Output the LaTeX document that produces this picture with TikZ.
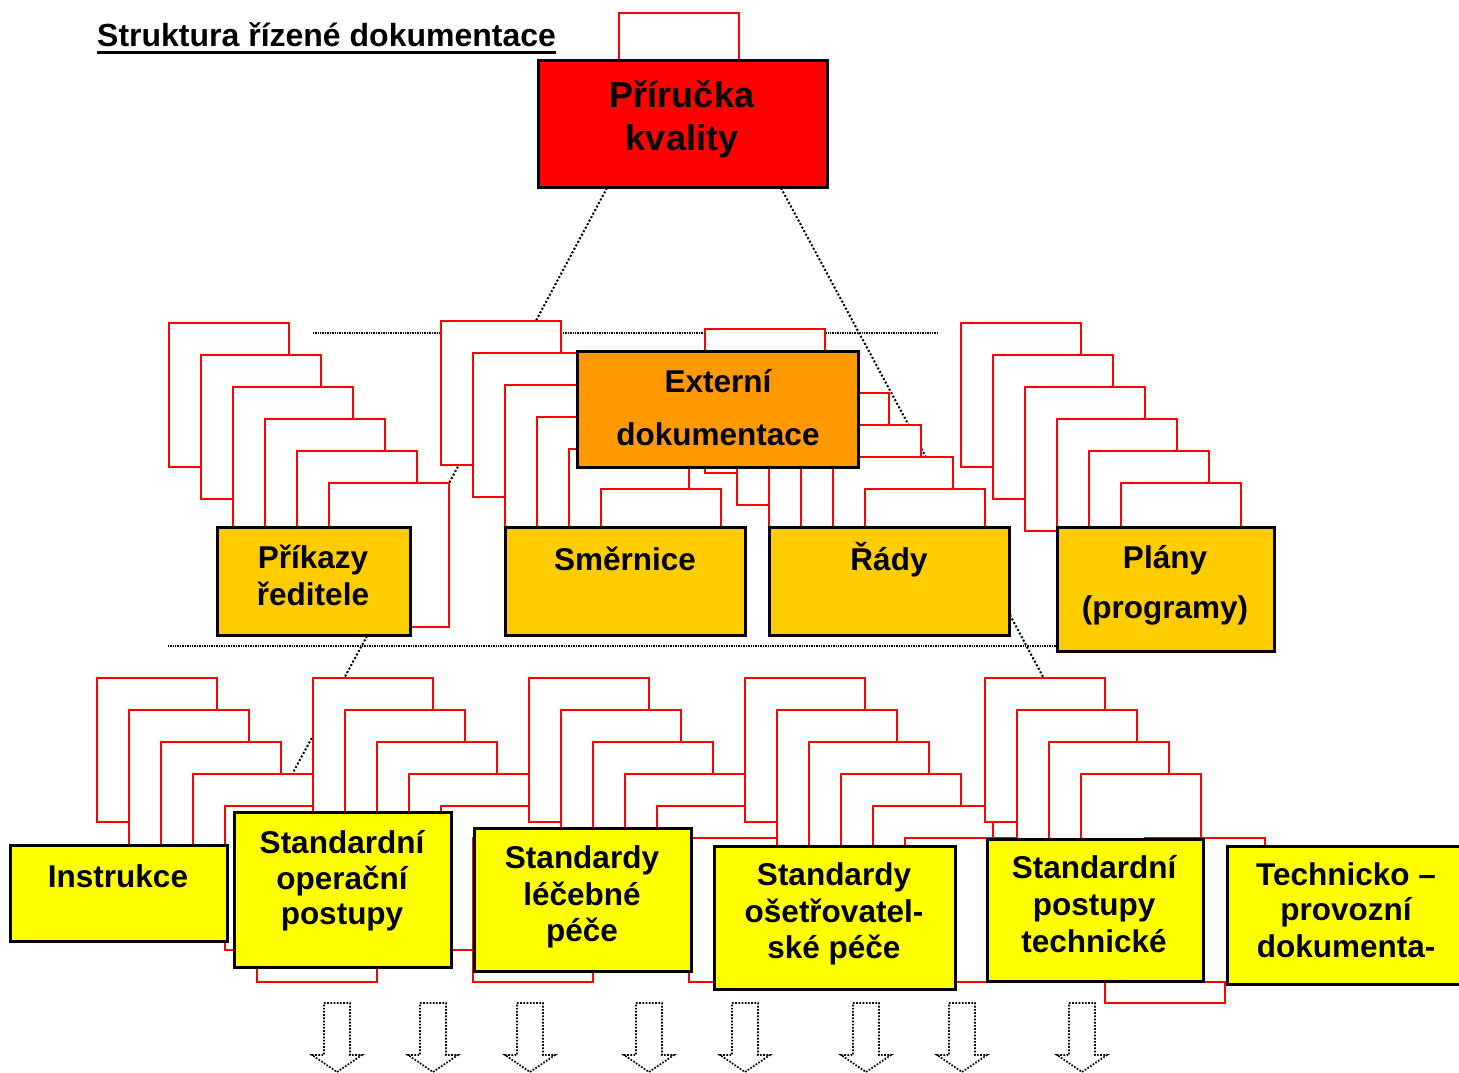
\documentclass[tikz,border=0pt]{standalone}
\usepackage{fontspec}
\setmainfont{Liberation Sans}
\definecolor{qred}{HTML}{FF0000}
\definecolor{qorange}{HTML}{FF9900}
\definecolor{qgold}{HTML}{FFCC00}
\definecolor{qyellow}{HTML}{FFFF00}
\tikzset{
  sheet/.style={draw=qred, fill=white, line width=2pt},
  docbox/.style={draw=black, line width=3pt, inner sep=0pt},
  txt/.style={font=\bfseries\fontsize{31.5}{36}\selectfont, inner sep=0pt, anchor=base},
  bigtxt/.style={font=\bfseries\fontsize{36}{40}\selectfont, inner sep=0pt, anchor=base},
  conn/.style={draw=black, line width=2pt, dash pattern=on 2pt off 2pt},
  level/.style={draw=black, line width=1.6pt, dash pattern=on 1pt off 0.7pt},
  flowarrow/.style={draw=black, line width=1.7pt, dash pattern=on 1.7pt off 1.5pt, fill=white}
}
\newcommand\stack[3]{\foreach \k in {#3} \draw[sheet] ({#1+32*\k},{#2+32*\k}) rectangle ++(120,144);}
\newcommand\flowdown[1]{\draw[flowarrow] ({#1-13},1003) -- ({#1+13},1003) -- ({#1+13},1055) -- ({#1+25},1055) -- (#1,1072) -- ({#1-25},1055) -- ({#1-13},1055) -- cycle;}
\begin{document}
\begin{tikzpicture}[x=1pt,y=-1pt]
\useasboundingbox (0,0) rectangle (1459,1073);

% connector end points
\coordinate (c1a) at (607,188);
\coordinate (c1b) at (440,500);
\coordinate (c2a) at (781,188);
\coordinate (c2b) at (949,500);
\coordinate (c3a) at (367,636);
\coordinate (c3b) at (270,815);
\coordinate (c4a) at (1010,615);
\coordinate (c4b) at (1058,705);
\coordinate (h1a) at (313,333);
\coordinate (h1b) at (937,333);
\coordinate (h2a) at (168,646);
\coordinate (h2b) at (1060,646);

% dotted lines (under everything)
\draw[level] (h1a) -- (h1b);
\draw[level] (h2a) -- (h2b);
\draw[conn] (c1a) -- (c1b);
\draw[conn] (c2a) -- (c2b);
\draw[conn] (c3a) -- (c3b);
\draw[conn] (c4a) -- (c4b);

% top sheet
\draw[sheet] (619,13) rectangle ++(120,144);

% middle stacks
\stack{169}{323}{0,...,5}
\stack{441}{321}{0,...,4}
\draw[sheet] (601,489) rectangle ++(120,144);
\stack{705}{329}{0,...,5}
\stack{961}{323}{0,...,5}

% bottom stacks
\stack{97}{678}{0,...,5}
\stack{313}{678}{0,...,5}
\stack{529}{678}{0,...,5}
\stack{745}{678}{0,...,5}
\draw[sheet] (1105,859) rectangle ++(120,144);
\stack{985}{678}{0,...,3}
\stack{985}{678}{5}

% title
\node[anchor=base west, inner sep=0pt, font=\bfseries\fontsize{32}{36}\selectfont] (title) at (97,47) {Struktura řízené dokumentace};
\draw[line width=2.5pt] ([yshift=-5.5pt]title.base west) -- ([yshift=-5.5pt]title.base east);

% boxes
\node[docbox, fill=qred, minimum width=289, minimum height=126] (pq) at (682.5,124) {};
\node[bigtxt] (pqt1) at (682,107) {Příručka};
\node[bigtxt] (pqt2) at (682,150) {kvality};

\node[docbox, fill=qgold, minimum width=193, minimum height=108] (pri) at (313.5,581) {};
\node[txt] (prit1) at (313,568) {Příkazy};
\node[txt] (prit2) at (313,605) {ředitele};

\node[docbox, fill=qgold, minimum width=240, minimum height=108] (sme) at (625,581) {};
\node[txt] (smet1) at (625,570) {Směrnice};

\node[docbox, fill=qgold, minimum width=240, minimum height=108] (rad) at (889,581) {};
\node[txt] (radt1) at (889,570) {Řády};

\node[docbox, fill=qgold, minimum width=217, minimum height=124] (pla) at (1165.5,589) {};
\node[txt] (plat1) at (1165,568) {Plány};
\node[txt] (plat2) at (1165,618) {(programy)};

\node[docbox, fill=qorange, minimum width=281, minimum height=116] (ext) at (717.5,409) {};
\node[txt] (extt1) at (718,392) {Externí};
\node[txt] (extt2) at (718,445) {dokumentace};

\node[docbox, fill=qyellow, minimum width=217, minimum height=96] (ins) at (118.5,893) {};
\node[txt] (inst1) at (118,887) {Instrukce};

\node[docbox, fill=qyellow, minimum width=217, minimum height=155] (sop) at (342.5,889.5) {};
\node[txt] (sopt1) at (342,853) {Standardní};
\node[txt] (sopt2) at (342,889) {operační};
\node[txt] (sopt3) at (342,924) {postupy};

\node[docbox, fill=qyellow, minimum width=217, minimum height=143] (slp) at (582.5,899.5) {};
\node[txt] (slpt1) at (582,868) {Standardy};
\node[txt] (slpt2) at (582,905) {léčebné};
\node[txt] (slpt3) at (582,941) {péče};

\node[docbox, fill=qyellow, minimum width=241, minimum height=143] (osp) at (834.5,917.5) {};
\node[txt] (ospt1) at (834,885) {Standardy};
\node[txt] (ospt2) at (834,922) {ošetřovatel-};
\node[txt] (ospt3) at (834,958) {ské péče};

\node[docbox, fill=qyellow, minimum width=216, minimum height=142] (spt) at (1095,910) {};
\node[txt] (sptt1) at (1094,878) {Standardní};
\node[txt] (sptt2) at (1094,915) {postupy};
\node[txt] (sptt3) at (1094,952) {technické};

\node[docbox, fill=qyellow, minimum width=238, minimum height=138] (tech) at (1346,915) {};
\node[txt] (techt1) at (1346,885) {Technicko –};
\node[txt] (techt2) at (1346,920) {provozní};
\node[txt] (techt3) at (1346,957) {dokumenta-};

% arrows at the bottom
\flowdown{337}
\flowdown{433}
\flowdown{530}
\flowdown{649}
\flowdown{745}
\flowdown{866}
\flowdown{962}
\flowdown{1082}
\end{tikzpicture}
\end{document}
